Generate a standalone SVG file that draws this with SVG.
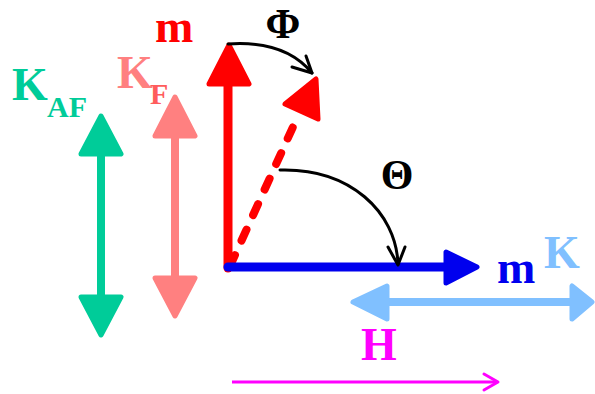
<svg xmlns="http://www.w3.org/2000/svg" width="595" height="394" viewBox="0 0 595 394">
<style>
text{font-family:"Liberation Serif","Times New Roman",serif;font-weight:bold}
.big{font-size:46px}
.sub{font-size:30px}
.greek{font-size:42px}
.head{stroke-linejoin:round;stroke-width:5}
.arc{fill:none;stroke:#000;stroke-width:3;stroke-linecap:round;stroke-linejoin:round}
</style>
<rect width="595" height="394" fill="#fff"/>
<g id="KAF">
<line x1="101" y1="150" x2="101" y2="300" stroke="#00CC99" stroke-width="8"/>
<polygon class="head" points="101,116 121,154 81,154" fill="#00CC99" stroke="#00CC99"/>
<polygon class="head" points="101,335 121,297 81,297" fill="#00CC99" stroke="#00CC99"/>
<text x="12" y="100" class="big" fill="#00CC99">K</text>
<text x="47" y="117" class="sub" fill="#00CC99">AF</text>
</g>
<g id="KF">
<line x1="175" y1="130" x2="175" y2="282" stroke="#FF8080" stroke-width="8"/>
<polygon class="head" points="175,97 195,136 155,136" fill="#FF8080" stroke="#FF8080"/>
<polygon class="head" points="175,316 195,278 155,278" fill="#FF8080" stroke="#FF8080"/>
<text x="117" y="88" class="big" fill="#FF8080">K</text>
<text x="150" y="104" class="sub" fill="#FF5C5C">F</text>
</g>
<g id="m-red">
<line x1="228" y1="268" x2="228" y2="80" stroke="#FF0000" stroke-width="9" stroke-linecap="round"/>
<polygon class="head" points="229,45 249,84 209,84" fill="#FF0000" stroke="#FF0000"/>
<text x="155" y="42" class="big" fill="#FF0000">m</text>
</g>
<g id="m-tilted">
<line x1="230" y1="266" x2="297" y2="118" stroke="#FF0000" stroke-width="8" stroke-linecap="round" stroke-dasharray="12 16"/>
<polygon class="head" points="316,79 318,119 285,104" fill="#FF0000" stroke="#FF0000"/>
</g>
<g id="m-blue">
<line x1="228" y1="267" x2="448" y2="267" stroke="#0000EE" stroke-width="9" stroke-linecap="round"/>
<polygon class="head" points="477,267 446,252 446,283" fill="#0000EE" stroke="#0000EE"/>
<text x="497" y="283" class="big" fill="#0000EE">m</text>
</g>
<g id="K">
<line x1="385" y1="302" x2="575" y2="302" stroke="#80C0FF" stroke-width="8"/>
<polygon class="head" points="353,302 387,286 387,319" fill="#80C0FF" stroke="#80C0FF"/>
<polygon class="head" points="592,302 572,286 572,319" fill="#80C0FF" stroke="#80C0FF"/>
<text x="544" y="268" class="big" fill="#80C0FF">K</text>
</g>
<g id="H">
<text x="361" y="360" class="big" fill="#FF00FF">H</text>
<line x1="232" y1="382" x2="497" y2="382" stroke="#FF00FF" stroke-width="3"/>
<polyline points="484,374 498,382 484,390" fill="none" stroke="#FF00FF" stroke-width="3" stroke-linejoin="round" stroke-linecap="round"/>
</g>
<g id="connectors">
<path class="arc" d="M228,44 Q285,40 312,73"/>
<polyline class="arc" points="292,67 312,73 306,56"/>
<path class="arc" d="M280,170 C350,168 396,212 398,264"/>
<polyline class="arc" points="388,247 398,265 405,247"/>
</g>
<g id="labels">
<text x="283" y="38" class="greek" fill="#000" text-anchor="middle">Φ</text>
<text x="397" y="189" class="greek" fill="#000" text-anchor="middle">Θ</text>
</g>
</svg>
